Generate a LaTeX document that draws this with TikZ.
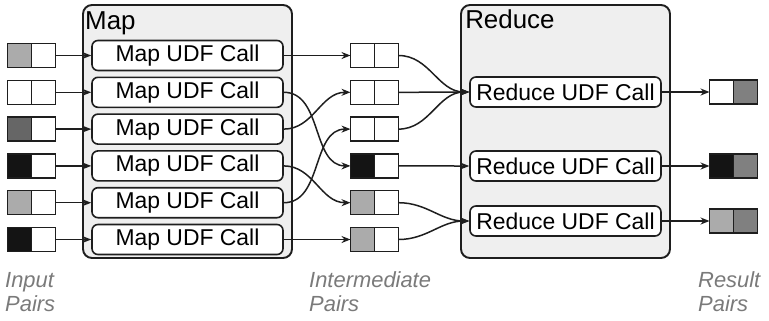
\documentclass[tikz,border=0pt]{standalone}
\usepackage{fontspec}
\setmainfont{Liberation Sans}
\usetikzlibrary{positioning,arrows.meta}
\definecolor{linec}{HTML}{1E1E1E}
\definecolor{boxbg}{HTML}{EFEFEF}
\definecolor{keyblack}{HTML}{141414}
\definecolor{keydark}{HTML}{666666}
\definecolor{keylight}{HTML}{ABABAB}
\definecolor{valgray}{HTML}{808080}
\definecolor{capc}{HTML}{7A7A7A}
\tikzset{
  cell/.style={draw=linec,line width=1.5bp,minimum size=24bp,inner sep=0pt,outer sep=0pt},
  udf/.style={draw=linec,fill=white,line width=1.6bp,rounded corners=6bp,minimum width=191bp,minimum height=30bp,inner sep=0pt,font=\fontsize{23}{27}\selectfont},
  phase/.style={draw=linec,fill=boxbg,line width=1.9bp,rounded corners=9bp,inner sep=0pt},
  flow/.style={draw=linec,line width=1.5bp,-{Stealth[length=9bp,width=7bp]}},
  title/.style={font=\fontsize{26}{30}\selectfont,inner sep=0pt,anchor=base west},
  caption/.style={font=\fontsize{22}{24}\selectfont\itshape,text=capc,align=left,inner sep=0pt,anchor=base west}
}
\begin{document}
\begin{tikzpicture}[x=1bp,y=-1bp]
\useasboundingbox (0,0) rectangle (769,320);
%row layout
\pgfmathsetmacro{\rowA}{55.5}   %first row
\pgfmathsetmacro{\dy}{36.8}     %row pitch
%phase boxes
\node[phase,minimum width=209bp,minimum height=253bp] (mapbox) at (187.5,131.5) {};
\node[phase,minimum width=209bp,minimum height=253bp] (redbox) at (565.5,131.5) {};
\node[title] (maptitle) at ([xshift=3bp,yshift=-25bp]mapbox.north west) {Map};
\node[title] (redtitle) at ([xshift=5bp,yshift=-24bp]redbox.north west) {Reduce};
%input pairs and map calls
\foreach \i/\kc in {1/keylight,2/white,3/keydark,4/keyblack,5/keylight,6/keyblack}{
  \pgfmathsetmacro{\y}{\rowA+(\i-1)*\dy}
  \node[cell,fill=\kc] (in\i-k) at (19.5,\y) {};
  \node[cell,fill=white,right=0pt of in\i-k] (in\i-v) {};
  \node[udf] (map\i) at (187.5,\y) {Map UDF Call};
  \draw[flow] (in\i-v) -- (map\i);
}
%intermediate pairs
\foreach \i/\kc in {1/white,2/white,3/white,4/keyblack,5/keylight,6/keylight}{
  \pgfmathsetmacro{\y}{\rowA+(\i-1)*\dy}
  \node[cell,fill=\kc] (mid\i-k) at (362.5,\y) {};
  \node[cell,fill=white,right=0pt of mid\i-k] (mid\i-v) {};
}
%shuffle: map -> intermediate
\foreach \src/\dst in {1/1,2/4,3/2,4/5,5/3,6/6}
  \draw[flow] (map\src.east) to[out=0,in=180] (mid\dst-k.west);
%reduce calls
\node[udf] (red1) at (565.5,92) {Reduce UDF Call};
\node[udf] (red2) at (565.5,166) {Reduce UDF Call};
\node[udf] (red3) at (565.5,221) {Reduce UDF Call};
\foreach \src/\dst in {1/1,2/1,3/1,4/2,5/3,6/3}
  \draw[flow] (mid\src-v.east) to[out=0,in=180] (red\dst.west);
%result pairs
\foreach \i/\kc/\y in {1/white/92,2/keyblack/166,3/keylight/221}{
  \node[cell,fill=\kc] (out\i-k) at (721.5,\y) {};
  \node[cell,fill=valgray,right=0pt of out\i-k] (out\i-v) {};
  \draw[flow] (red\i) -- (out\i-k);
}
%text
\node[caption] (capin) at (5,311) {Input\\Pairs};
\node[caption] (capmid) at (309,311) {Intermediate\\Pairs};
\node[caption] (capout) at (698,311) {Result\\Pairs};
\end{tikzpicture}
\end{document}
